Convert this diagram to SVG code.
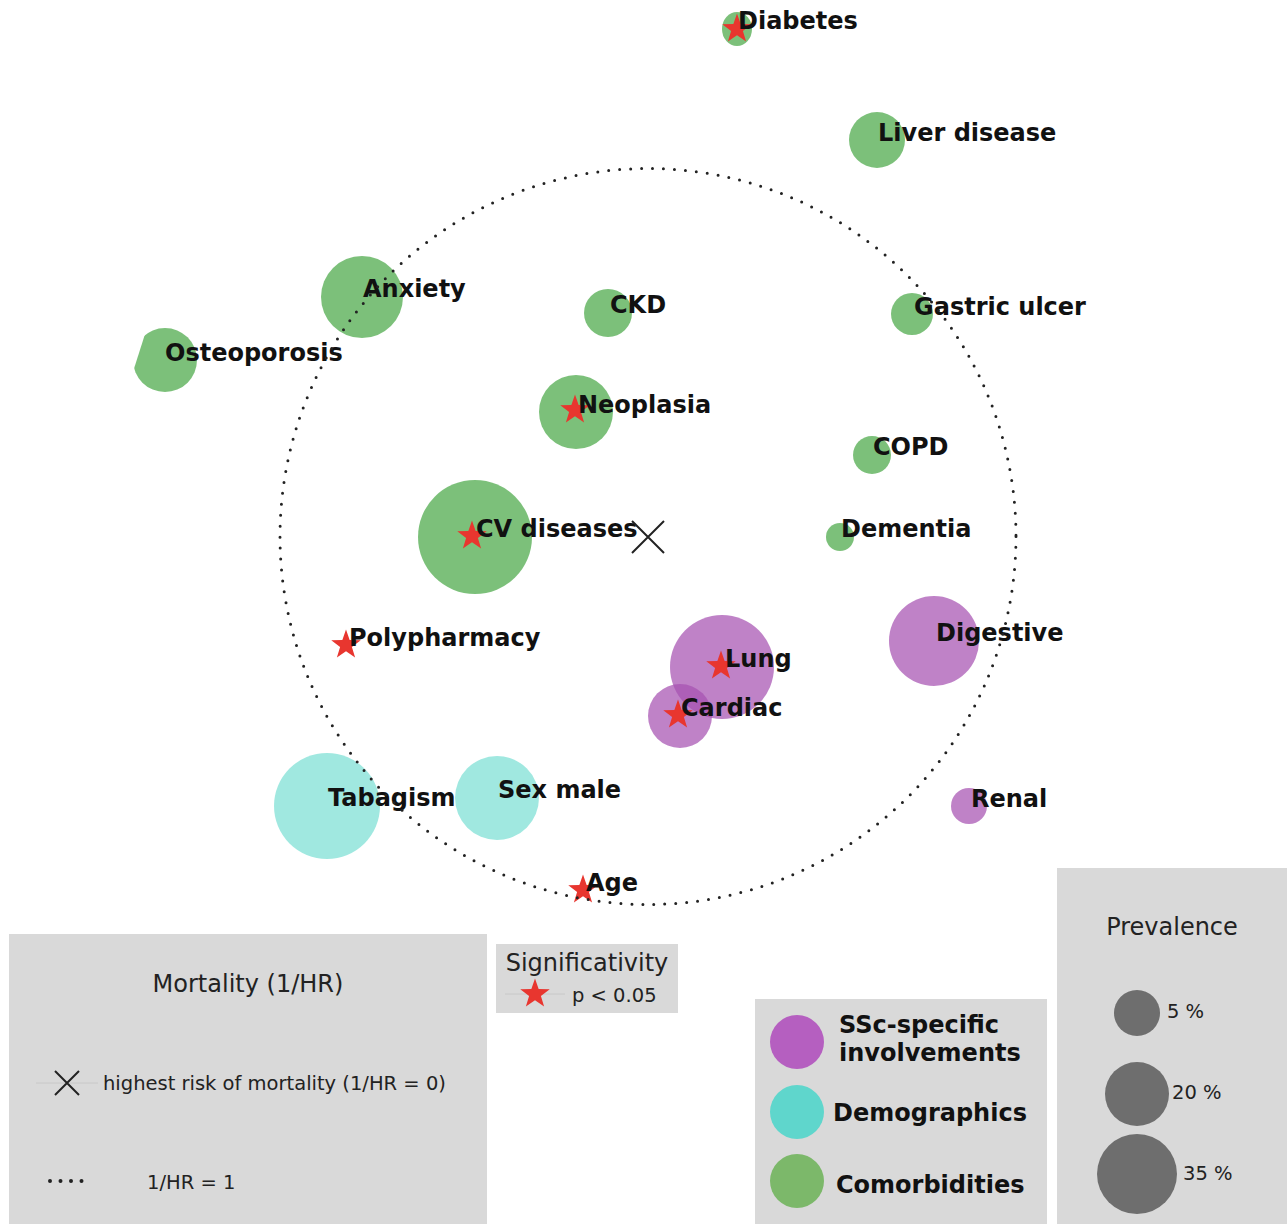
<svg xmlns="http://www.w3.org/2000/svg" width="1287" height="1224" viewBox="0 0 1287 1224">
<style>
.g{fill:#50ab4d;fill-opacity:0.75}
.p{fill:#a652b2;fill-opacity:0.72}
.c{fill:#80e0d5;fill-opacity:0.75}
.lbl{font-family:"DejaVu Sans","Liberation Sans",sans-serif;font-weight:bold;font-size:24px;fill:#111}
.reg{font-family:"DejaVu Sans","Liberation Sans",sans-serif;font-size:24px;fill:#222}
.small{font-family:"DejaVu Sans","Liberation Sans",sans-serif;font-size:19.5px;fill:#222}
.box{fill:#d9d9d9}
.star{fill:#e8362f}
.xm{stroke:#222;stroke-width:2;fill:none}
.dots{fill:none;stroke:#222;stroke-width:3;stroke-linecap:round;stroke-dasharray:0 11}
.ldots{fill:none;stroke:#222;stroke-width:4;stroke-linecap:round;stroke-dasharray:0 10.5}
.grey{fill:#6e6e6e}
</style>
<defs>
<path id="star" d="M0,-15.5 L3.65,-5.01 L14.74,-4.79 L5.9,1.91 L9.11,12.54 L0,6.2 L-9.11,12.54 L-5.9,1.91 L-14.74,-4.79 L-3.65,-5.01 Z"/>
<clipPath id="osteoClip"><polygon points="149.5,320 220,320 220,400 124,400"/></clipPath>
</defs>
<rect width="1287" height="1224" fill="#fff"/>

<g id="node-diabetes"><ellipse class="g" cx="737" cy="29" rx="15" ry="17"/><use href="#star" class="star" x="737" y="29"/><text class="lbl" x="738" y="29">Diabetes</text></g>
<g id="node-liver"><circle class="g" cx="877" cy="140" r="28"/><text class="lbl" x="878" y="141">Liver disease</text></g>
<g id="node-anxiety"><circle class="g" cx="362" cy="297" r="41"/><text class="lbl" x="363" y="297">Anxiety</text></g>
<g id="node-osteoporosis"><circle class="g" cx="165" cy="360" r="32" clip-path="url(#osteoClip)"/><text class="lbl" x="165" y="361">Osteoporosis</text></g>
<g id="node-ckd"><circle class="g" cx="608" cy="313" r="24"/><text class="lbl" x="610" y="313">CKD</text></g>
<g id="node-gastric"><circle class="g" cx="912" cy="314" r="21"/><text class="lbl" x="914" y="315">Gastric ulcer</text></g>
<g id="node-neoplasia"><circle class="g" cx="576" cy="412" r="37"/><use href="#star" class="star" x="575" y="410"/><text class="lbl" x="578" y="413">Neoplasia</text></g>
<g id="node-copd"><circle class="g" cx="872" cy="455" r="19"/><text class="lbl" x="873" y="455">COPD</text></g>
<g id="node-cv"><circle class="g" cx="475" cy="537" r="57"/><use href="#star" class="star" x="472" y="536"/><text class="lbl" x="476" y="537">CV diseases</text></g>
<g id="node-dementia"><circle class="g" cx="840" cy="537" r="14"/><text class="lbl" x="841" y="537">Dementia</text></g>
<g id="node-polypharmacy"><use href="#star" class="star" x="346" y="645"/><text class="lbl" x="349" y="646">Polypharmacy</text></g>
<g id="node-digestive"><circle class="p" cx="934" cy="641" r="45"/><text class="lbl" x="936" y="641">Digestive</text></g>
<g id="node-lung"><circle class="p" cx="722" cy="667" r="52"/><use href="#star" class="star" x="721" y="666"/><text class="lbl" x="725" y="667">Lung</text></g>
<g id="node-cardiac"><circle class="p" cx="680" cy="716" r="32"/><use href="#star" class="star" x="678" y="715"/><text class="lbl" x="681" y="716">Cardiac</text></g>
<g id="node-tabagism"><circle class="c" cx="327" cy="806" r="53"/><text class="lbl" x="328" y="806">Tabagism</text></g>
<g id="node-sexmale"><circle class="c" cx="497" cy="798" r="42"/><text class="lbl" x="498" y="798">Sex male</text></g>
<g id="node-renal"><circle class="p" cx="969" cy="806" r="18"/><text class="lbl" x="971" y="807">Renal</text></g>
<g id="node-age"><use href="#star" class="star" x="583" y="890"/><text class="lbl" x="586" y="891">Age</text></g>

<g id="connectors">
<circle class="dots" cx="648" cy="536.5" r="368"/>
<path class="xm" d="M632,521 L664,553 M664,521 L632,553"/>
</g>

<g id="legend-mortality">
<rect class="box" x="9" y="934" width="478" height="290"/>
<text class="reg" x="248" y="992" text-anchor="middle">Mortality (1/HR)</text>
<line x1="36" y1="1083" x2="98" y2="1083" stroke="#c8c8c8" stroke-width="1"/>
<path class="xm" d="M55,1071 L79,1095 M79,1071 L55,1095"/>
<text class="small" x="103" y="1090">highest risk of mortality (1/HR = 0)</text>
<line class="ldots" x1="50" y1="1181" x2="82" y2="1181"/>
<text class="small" x="147" y="1189">1/HR = 1</text>
</g>

<g id="legend-significativity">
<rect class="box" x="496" y="944" width="182" height="69"/>
<text class="reg" x="587" y="971" text-anchor="middle">Significativity</text>
<line x1="505" y1="994" x2="565" y2="994" stroke="#c8c8c8" stroke-width="1"/>
<use href="#star" class="star" x="535" y="994"/>
<text class="small" x="572" y="1002" font-size="20">p &lt; 0.05</text>
</g>

<g id="legend-categories">
<rect class="box" x="755" y="999" width="292" height="225"/>
<circle cx="797" cy="1042" r="27" fill="#b55fc0"/>
<text class="lbl" x="839" y="1033">SSc-specific</text>
<text class="lbl" x="839" y="1061">involvements</text>
<circle cx="797" cy="1112" r="27" fill="#5fd6cc"/>
<text class="lbl" x="833" y="1121">Demographics</text>
<circle cx="797" cy="1181" r="27" fill="#7cb86a"/>
<text class="lbl" x="836" y="1193">Comorbidities</text>
</g>

<g id="legend-prevalence">
<rect class="box" x="1057" y="868" width="230" height="356"/>
<text class="reg" x="1172" y="935" text-anchor="middle">Prevalence</text>
<circle class="grey" cx="1137" cy="1013" r="23"/>
<text class="small" x="1167" y="1018" font-size="16">5 %</text>
<circle class="grey" cx="1137" cy="1094" r="32"/>
<text class="small" x="1172" y="1099" font-size="16">20 %</text>
<circle class="grey" cx="1137" cy="1174" r="40"/>
<text class="small" x="1183" y="1180" font-size="16">35 %</text>
</g>
</svg>
